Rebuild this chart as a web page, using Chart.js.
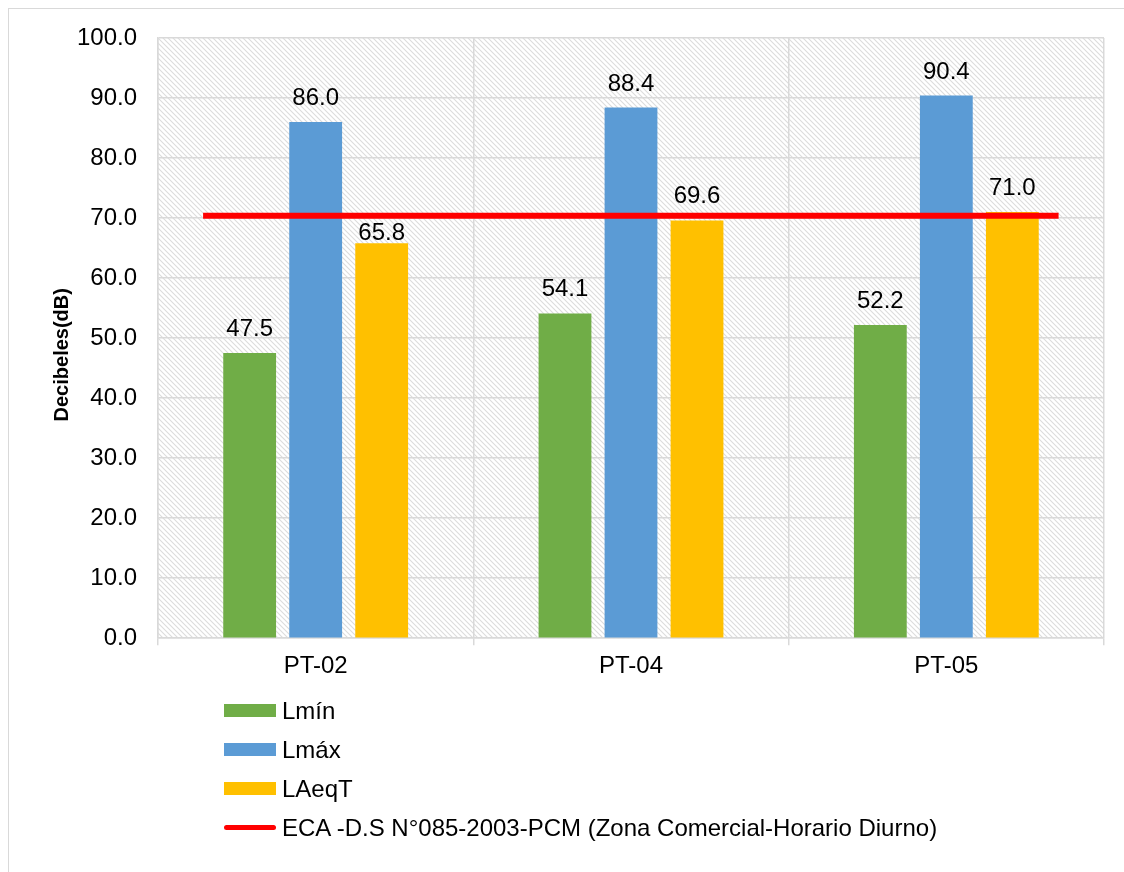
<!DOCTYPE html>
<html lang="es">
<head>
  <meta charset="UTF-8" />
  <title>Niveles de ruido</title>
  <script src="https://cdn.jsdelivr.net/npm/chart.js"></script>
  <style>
    body {
      margin: 0;
      background: #fff;
      font-family: 'Liberation Sans', Arial, sans-serif;
    }
    #frame {
      position: absolute;
      left: 8px;
      top: 8px;
      width: 1140px;
      height: 890px;
      border: 1px solid #d9d9d9;
    }
    #wrap {
      position: absolute;
      left: 0;
      top: 0;
      width: 1124px;
      height: 700px;
    }
    #legend {
      position: absolute;
      left: 224px;
      top: 691px;
      color: #000;
      font-size: 24px;
    }
    .item {
      height: 39px;
      display: flex;
      align-items: center;
    }
    .swatch {
      width: 52px;
      height: 13px;
      margin-right: 6px;
    }
    .swatch.line {
      height: 5px;
      border-radius: 3px;
    }
  </style>
</head>
<body>
  <div id="frame"></div>
  <div id="wrap"><canvas id="noiseChart"></canvas></div>
  <div id="legend"></div>

  <script>
    const points = ['PT-02', 'PT-04', 'PT-05'];
    const lmin = [47.5, 54.1, 52.2];
    const lmax = [86.0, 88.4, 90.4];
    const laeqt = [65.8, 69.6, 71.0];
    // ECA limit, in category-index units (PT-02 = 0) so it can stop between categories
    const ecaLimit = [{ x: -0.357, y: 70.4 }, { x: 2.356, y: 70.4 }];
    const yTicks = [0, 10, 20, 30, 40, 50, 60, 70, 80, 90, 100];

    const FONT = "'Liberation Sans', Arial, sans-serif";

    // light diagonal hatch for the plot background
    function hatch() {
      const c = document.createElement('canvas');
      c.width = 5; c.height = 5;
      const g = c.getContext('2d');
      g.fillStyle = '#fff';
      g.fillRect(0, 0, 5, 5);
      g.strokeStyle = '#dcdcdc';
      g.lineWidth = 1.1;
      g.beginPath();
      g.moveTo(-1, -1); g.lineTo(6, 6);
      g.moveTo(-1, 4); g.lineTo(1, 6);
      g.moveTo(4, -1); g.lineTo(6, 1);
      g.stroke();
      return g.createPattern(c, 'repeat');
    }

    const hatchBackground = {
      id: 'hatchBackground',
      beforeDraw(chart) {
        const { ctx, chartArea: a } = chart;
        ctx.save();
        ctx.fillStyle = hatch();
        ctx.fillRect(a.left, a.top, a.right - a.left, a.bottom - a.top);
        ctx.restore();
      }
    };

    // value above each bar; a label that would sit on the ECA line drops just above its bar
    const barValues = {
      id: 'barValues',
      afterDatasetsDraw(chart) {
        const ctx = chart.ctx;
        const lineY = chart.scales.y.getPixelForValue(ecaLimit[0].y);
        ctx.save();
        ctx.font = '24px ' + FONT;
        ctx.fillStyle = '#000';
        ctx.textAlign = 'center';
        ctx.textBaseline = 'alphabetic';
        chart.data.datasets.forEach((ds, i) => {
          if (ds.type === 'line') return;
          chart.getDatasetMeta(i).data.forEach((bar, j) => {
            let base = bar.y - 17;
            if (base > lineY - 3 && base - 18 < lineY + 3) base = bar.y - 3;
            ctx.fillText(ds.data[j].toFixed(1), bar.x, base);
          });
        });
        ctx.restore();
      }
    };

    const chart = new Chart(document.getElementById('noiseChart'), {
      type: 'bar',
      data: {
        labels: points,
        datasets: [
          { label: 'Lmín', data: lmin, backgroundColor: '#70ad47', order: 1 },
          { label: 'Lmáx', data: lmax, backgroundColor: '#5b9bd5', order: 1 },
          { label: 'LAeqT', data: laeqt, backgroundColor: '#ffc000', order: 1 },
          {
            type: 'line',
            label: 'ECA -D.S N°085-2003-PCM (Zona Comercial-Horario Diurno)',
            data: ecaLimit,
            parsing: false,
            borderColor: '#ff0000',
            backgroundColor: '#ff0000',
            borderWidth: 6,
            pointRadius: 0,
            order: 0
          }
        ]
      },
      options: {
        responsive: true,
        maintainAspectRatio: false,
        animation: false,
        layout: { padding: { top: 38, right: 20, bottom: 12, left: 50 } },
        datasets: {
          bar: { categoryPercentage: 0.628, barPercentage: 0.8 }
        },
        plugins: {
          legend: { display: false },
          tooltip: { enabled: false }
        },
        scales: {
          x: {
            grid: { color: '#d9d9d9', lineWidth: 1.5, tickLength: 7, offset: true },
            border: { color: '#d9d9d9', width: 1.5 },
            ticks: { color: '#000', padding: 7, font: { family: FONT, size: 24 } }
          },
          y: {
            min: 0,
            max: 100,
            afterBuildTicks(scale) {
              scale.ticks = yTicks.map(v => ({ value: v }));
            },
            afterFit(scale) {
              scale.width = 108;
            },
            grid: { color: '#d9d9d9', lineWidth: 1.5, drawTicks: false },
            border: { color: '#d9d9d9', width: 1.5 },
            ticks: {
              color: '#000',
              padding: 21,
              font: { family: FONT, size: 24 },
              callback: v => Number(v).toFixed(1)
            },
            title: {
              display: true,
              // trailing spaces push the rotated title a little below centre
              text: 'Decibeles(dB)' + '\u00a0'.repeat(6),
              color: '#000',
              padding: 0,
              font: { family: FONT, size: 20, weight: 'bold' }
            }
          }
        }
      },
      plugins: [hatchBackground, barValues]
    });

    // vertical legend under the plot, built from the datasets
    const legend = document.getElementById('legend');
    chart.data.datasets.forEach(ds => {
      const row = document.createElement('div');
      row.className = 'item';
      const sw = document.createElement('span');
      sw.className = 'swatch' + (ds.type === 'line' ? ' line' : '');
      sw.style.background = ds.backgroundColor;
      const txt = document.createElement('span');
      txt.textContent = ds.label;
      row.appendChild(sw);
      row.appendChild(txt);
      legend.appendChild(row);
    });
  </script>
</body>
</html>
